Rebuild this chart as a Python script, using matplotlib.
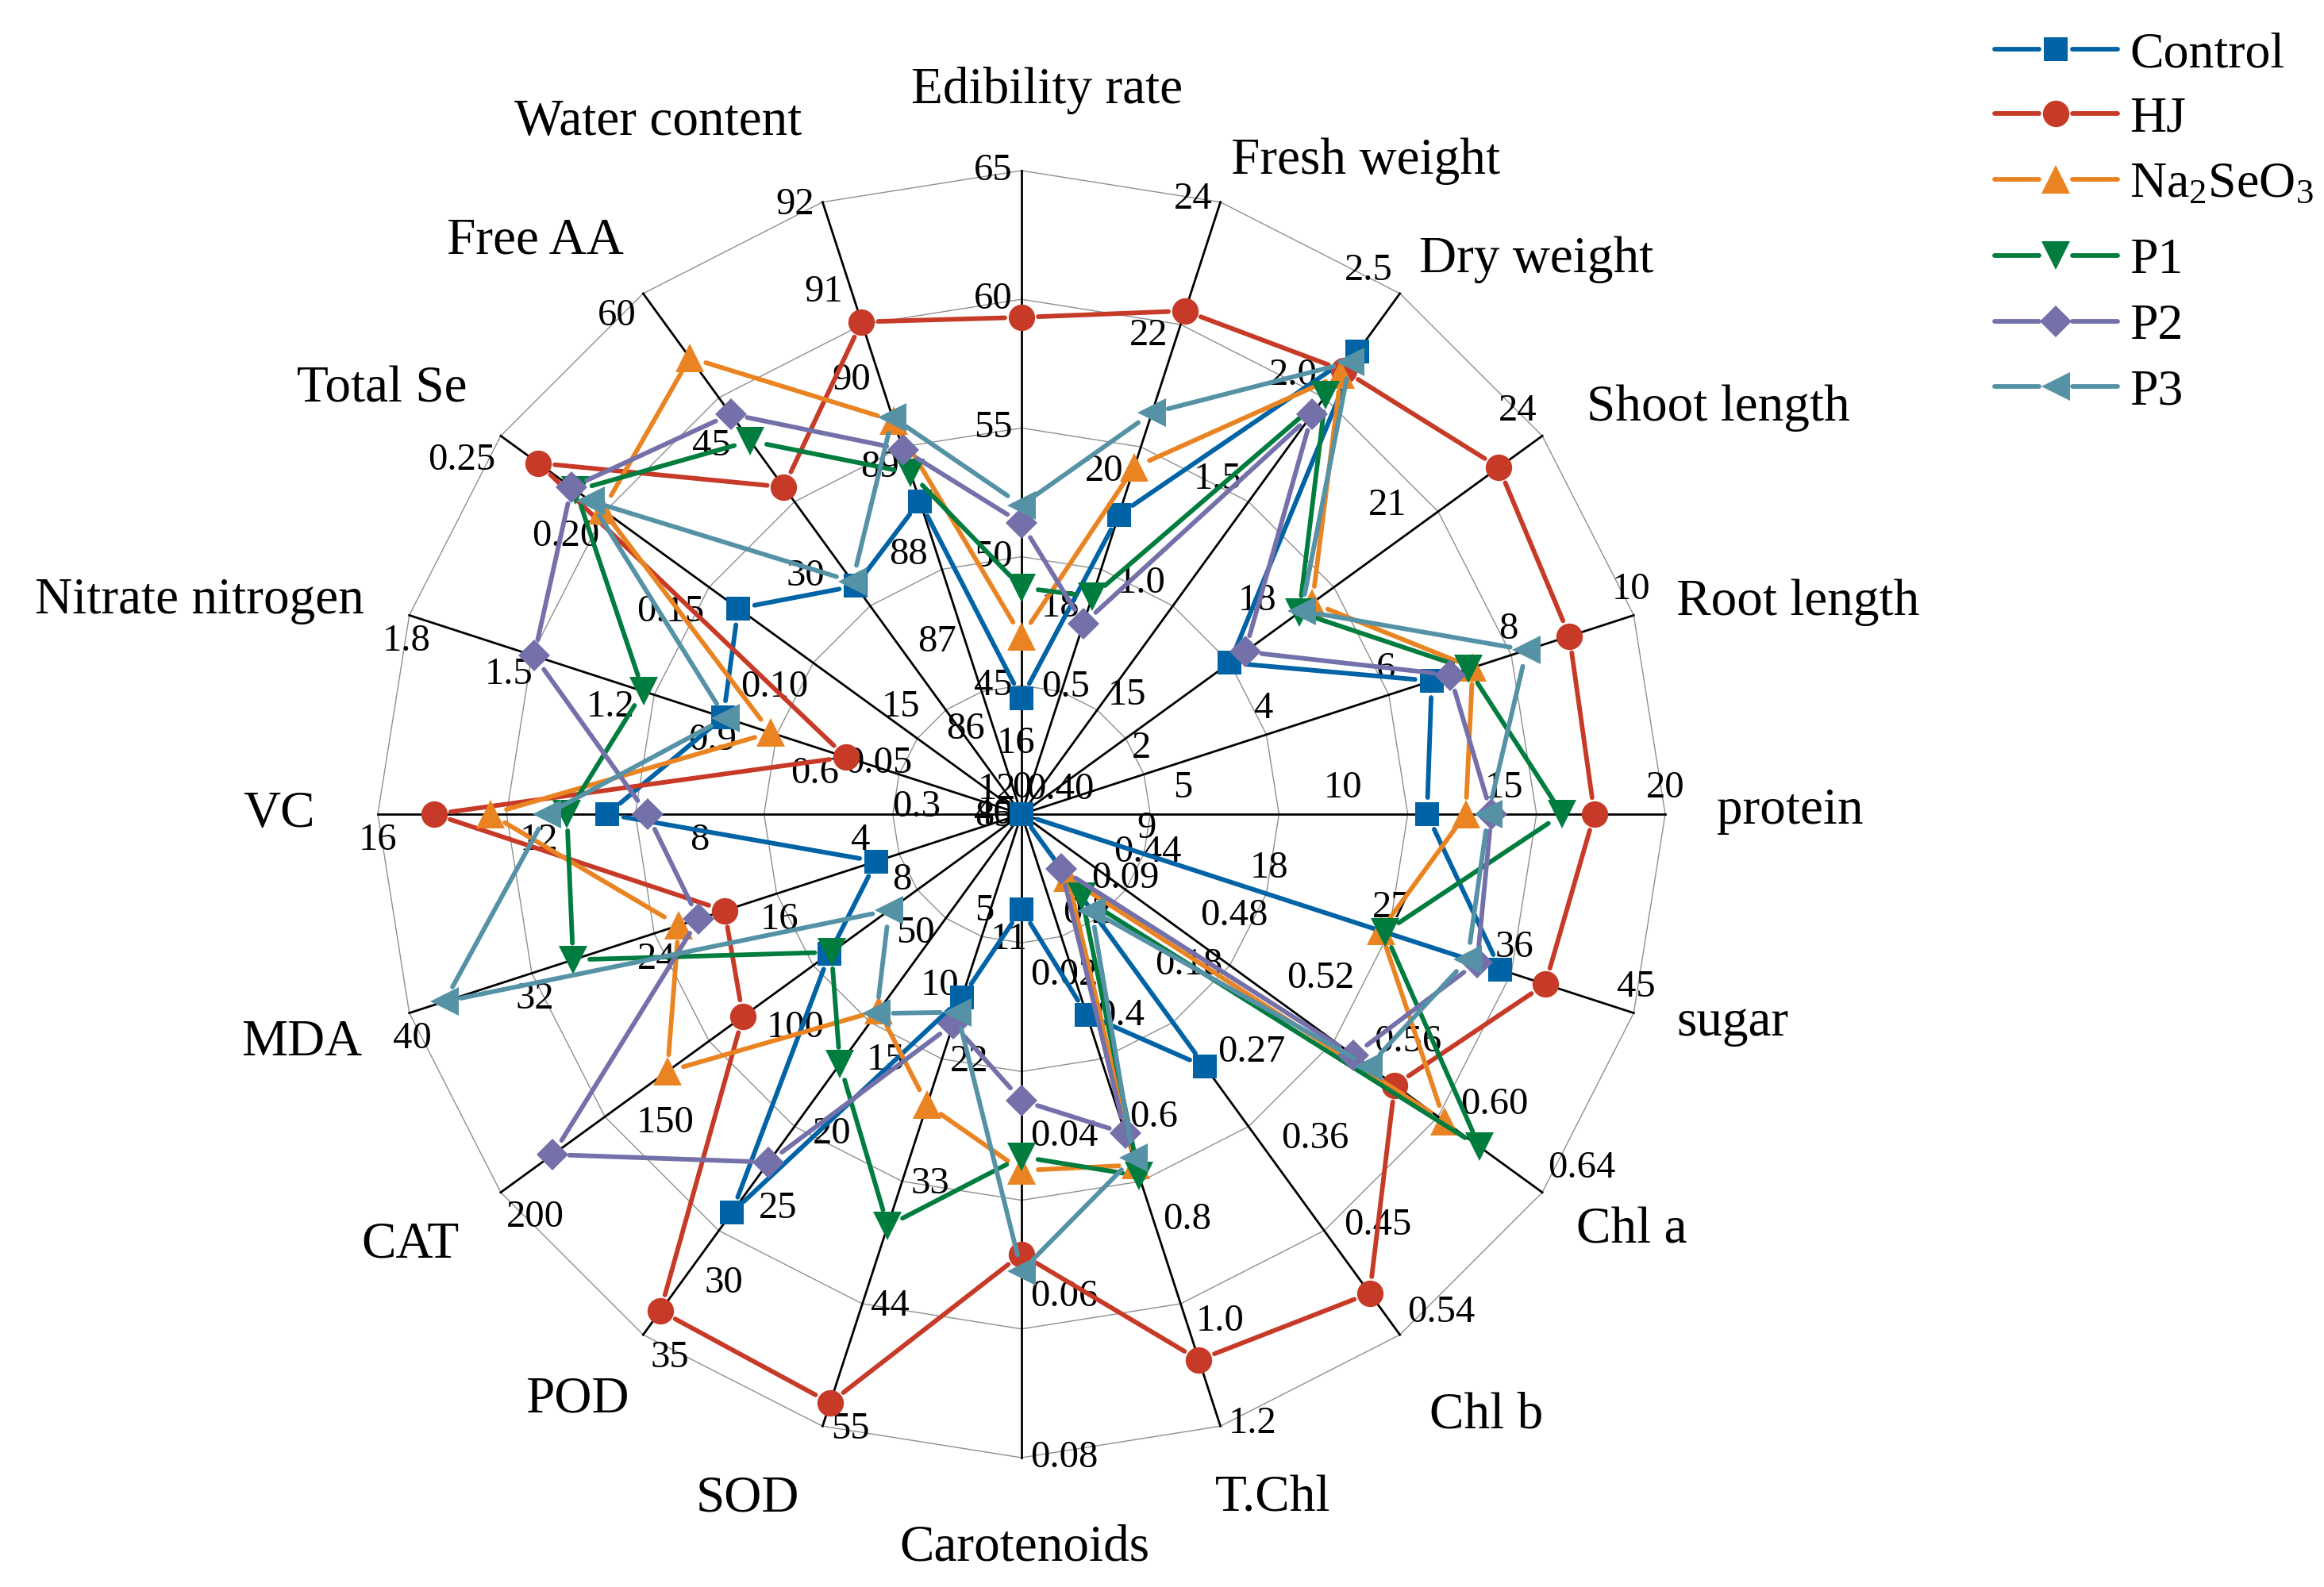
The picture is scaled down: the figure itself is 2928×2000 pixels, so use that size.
import numpy as np
import matplotlib.pyplot as plt

# --- Paso 1: Datos del gráfico de radar ---

ejes = ["Edibility rate", "Fresh weight", "Dry weight", "Shoot length", "Root length",
        "protein", "sugar", "Chl a", "Chl b", "T.Chl", "Carotenoids", "SOD", "POD",
        "CAT", "MDA", "VC", "Nitrate nitrogen", "Total Se", "Free AA", "Water content"]

# Escala de cada eje (centro -> borde)
minimos = [40, 15, 0, 12, 0, 0, 0, 0.40, 0, 0, 0, 0, 0, 0, 0, 0, 0, 0, 0, 85]
maximos = [65, 24, 2.5, 24, 10, 20, 45, 0.64, 0.54, 1.2, 0.08, 55, 35, 200, 40, 16, 1.8, 0.25, 60, 92]

# Marcas de cada eje
marcas = [
    [40, 45, 50, 55, 60, 65],
    [16, 18, 20, 22, 24],
    [0.5, 1.0, 1.5, 2.0, 2.5],
    [12, 15, 18, 21, 24],
    [2, 4, 6, 8, 10],
    [0, 5, 10, 15, 20],
    [9, 18, 27, 36, 45],
    [0.40, 0.44, 0.48, 0.52, 0.56, 0.60, 0.64],
    [0.09, 0.18, 0.27, 0.36, 0.45, 0.54],
    [0.2, 0.4, 0.6, 0.8, 1.0, 1.2],
    [0.02, 0.04, 0.06, 0.08],
    [11, 22, 33, 44, 55],
    [5, 10, 15, 20, 25, 30, 35],
    [50, 100, 150, 200],
    [8, 16, 24, 32, 40],
    [4, 8, 12, 16],
    [0.3, 0.6, 0.9, 1.2, 1.5, 1.8],
    [0.05, 0.10, 0.15, 0.20, 0.25],
    [15, 30, 45, 60],
    [85, 86, 87, 88, 89, 90, 91, 92],
]
decimales = [0, 0, 1, 0, 0, 0, 0, 2, 2, 1, 2, 0, 0, 0, 0, 0, 1, 2, 0, 0]

series = ["Control", "HJ", "Na$_2$SeO$_3$", "P1", "P2", "P3"]

control = [44.5, 19.4, 2.22, 16.8, 6.7, 12.6, 35.2, 0.40, 0.262, 0.393, 0.0118,
           16.5, 26.8, 73.7, 9.5, 10.3, 0.877, 0.136, 26.3, 88.58]
hj = [59.3, 22.4, 2.13, 23.0, 8.95, 17.8, 38.5, 0.572, 0.497, 1.07, 0.0547,
      52.9, 33.4, 107, 19.4, 14.6, 0.516, 0.232, 37.7, 90.63]
na2seo3 = [46.9, 20.1, 2.11, 18.7, 7.37, 13.8, 26.4, 0.595, 0.066, 0.688, 0.0443,
           26.1, 13.2, 136, 22.4, 13.2, 0.737, 0.201, 52.6, 89.5]
p1 = [48.8, 18.2, 2.01, 18.4, 7.3, 16.8, 26.7, 0.611, 0.086, 0.709, 0.0426,
      37.0, 16.8, 73, 29.3, 11.3, 1.112, 0.214, 43.0, 88.9]
p2 = [51.3, 17.8, 1.92, 17.15, 7.0, 14.6, 33.5, 0.553, 0.057, 0.626, 0.0356,
      18.85, 23.4, 180, 21.1, 9.3, 1.433, 0.216, 46.1, 89.17]
p3 = [52.0, 20.9, 2.17, 18.45, 8.25, 14.5, 32.8, 0.56, 0.10, 0.674, 0.0568,
      17.8, 13.4, 50.9, 37.7, 11.8, 0.87, 0.207, 26.8, 89.54]

valores = [control, hj, na2seo3, p1, p2, p3]
colores = ["#0063a6", "#c63a27", "#ea8422", "#007d3e", "#7370aa", "#5592a6"]
simbolos = ["s", "o", "^", "v", "D", "<"]
tamanos = [21, 24, 26, 26, 20, 26]

# Posición de los títulos de cada eje (en radios)
pos_titulos = [(0.04, 1.125), (0.534, 1.015), (0.80, 0.861), (1.082, 0.631), (1.206, 0.329),
               (1.194, 0.005), (1.105, -0.325), (0.948, -0.647), (0.722, -0.934), (0.39, -1.064),
               (0.005, -1.14), (-0.426, -1.064), (-0.69, -0.91), (-0.95, -0.669), (-1.118, -0.356),
               (-1.153, 0.0), (-1.277, 0.331), (-0.994, 0.66), (-0.755, 0.891), (-0.564, 1.075)]

# --- Paso 2: Figura ---
plt.rcParams['font.family'] = ['Liberation Serif', 'DejaVu Serif']
plt.rcParams['mathtext.fontset'] = 'custom'
plt.rcParams['mathtext.rm'] = 'Liberation Serif'
plt.rcParams['mathtext.default'] = 'regular'

W, H = 2928, 2000
cx, cy, R = 1287, 1026, 811  # centro y radio en píxeles

fig = plt.figure(figsize=(W / 100, H / 100), dpi=100)
ax = fig.add_axes([0, 0, 1, 1])
ax.set_xlim(-cx / R, (W - cx) / R)
ax.set_ylim(-(H - cy) / R, cy / R)
ax.axis("off")

n = len(ejes)
angulos = np.deg2rad(90 - 18 * np.arange(n))
ux, uy = np.cos(angulos), np.sin(angulos)

# Rejilla gris
for nivel in [0.2, 0.4, 0.6, 0.8, 1.0]:
    xs = np.append(ux, ux[0]) * nivel
    ys = np.append(uy, uy[0]) * nivel
    ax.plot(xs, ys, color="#8f8f8f", lw=1.0, zorder=1)

# Ejes negros, etiquetas de marcas y títulos
for k in range(n):
    ax.plot([0, ux[k]], [0, uy[k]], color="black", lw=2.0, zorder=2)
    phi = angulos[k] + np.pi / 2
    px, py = np.cos(phi), np.sin(phi)
    ha = "left" if px > 0.35 else ("right" if px < -0.35 else "center")
    va = "bottom" if py > 0.35 else ("top" if py < -0.35 else "center")
    for m in marcas[k]:
        f = (m - minimos[k]) / (maximos[k] - minimos[k])
        texto = f"{m:.{decimales[k]}f}"
        ax.annotate(texto, xy=(f * ux[k], f * uy[k]), xytext=(8 * px, 8 * py),
                    textcoords="offset points", ha=ha, va=va, fontsize=35, zorder=3)
    tx, ty = pos_titulos[k]
    ax.text(tx, ty, ejes[k], ha="center", va="center", fontsize=47)

# --- Paso 3: Series (líneas con hueco junto a los símbolos) ---
hueco = 21 / R
grosor = 4.2
for i, vals in enumerate(valores):
    f = [(v - minimos[k]) / (maximos[k] - minimos[k]) for k, v in enumerate(vals)]
    f = np.clip(f, 0, 1)
    xs, ys = f * ux, f * uy
    for k in range(n):
        a = np.array([xs[k], ys[k]])
        b = np.array([xs[(k + 1) % n], ys[(k + 1) % n]])
        d = b - a
        L = np.hypot(*d)
        if L > 2 * hueco:
            a2 = a + d / L * hueco
            b2 = b - d / L * hueco
            ax.plot([a2[0], b2[0]], [a2[1], b2[1]], color=colores[i], lw=grosor,
                    solid_capstyle="round", zorder=4 + i)
    ax.plot(xs, ys, linestyle="none", marker=simbolos[i], ms=tamanos[i],
            color=colores[i], markeredgewidth=0, zorder=4.5 + i)

# --- Paso 4: Leyenda manual ---
leyenda_y = [62, 143, 226, 322, 405, 487]
for i, nombre in enumerate(series):
    y = (cy - leyenda_y[i]) / R
    x0, xm, x1 = (2513 - cx) / R, (2590 - cx) / R, (2668 - cx) / R
    ax.plot([x0, xm - hueco], [y, y], color=colores[i], lw=grosor, solid_capstyle="round")
    ax.plot([xm + hueco, x1], [y, y], color=colores[i], lw=grosor, solid_capstyle="round")
    ax.plot([xm], [y], marker=simbolos[i], ms=tamanos[i], color=colores[i], markeredgewidth=0)
    ax.text((2683 - cx) / R, y - 22 / R, nombre, ha="left", va="baseline", fontsize=46)

fig.savefig("out.png", dpi=100)
